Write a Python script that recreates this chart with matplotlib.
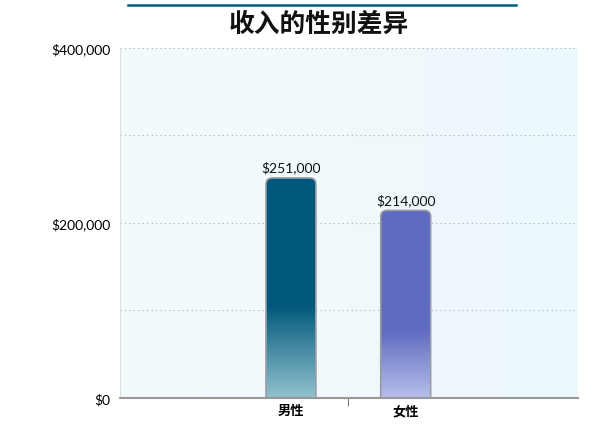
import numpy as np
import matplotlib
matplotlib.use("Agg")
import matplotlib.pyplot as plt
from matplotlib.patches import FancyBboxPatch
from matplotlib.colors import LinearSegmentedColormap, to_rgb
from matplotlib.ticker import FuncFormatter, MultipleLocator, FixedLocator

plt.rcParams['font.family'] = ['Lato', 'Noto Sans CJK SC', 'DejaVu Sans']

# data
categories = ['男性', '女性']
incomes = [251000, 214000]
labels = ['$251,000', '$214,000']
title = '收入的性别差异'

top_colors = ['#01587a', '#5f6bc1']
bottom_colors = ['#92c2cf', '#b6bfea']
fade_start = [0.42, 0.36]   # fraction of bar height where fade begins

fig = plt.figure(figsize=(6, 4.39), dpi=100)
ax = fig.add_axes([0.2, 0.0915, 0.763, 0.798])

x = np.arange(len(categories))
bw = 0.435
bars = ax.bar(x, incomes, width=bw, color='none', edgecolor='none')

ax.set_xlim(-1.49, 2.5)
ax.set_ylim(0, 400000)

# background gradient
bg = np.linspace(0, 1, 256).reshape(1, -1)
bg_cmap = LinearSegmentedColormap.from_list('bg', ['#f3fbfd', '#edf8fc'])
ax.imshow(bg, extent=[-1.49, 2.5, 0, 400000], aspect='auto', cmap=bg_cmap,
          zorder=0)

# gradient bars with rounded tops
for rect, tc, bc, fs, lab in zip(bars, top_colors, bottom_colors, fade_start, labels):
    x0, w, h = rect.get_x(), rect.get_width(), rect.get_height()
    n = 200
    t = np.linspace(0, 1, n)  # 0 bottom, 1 top
    tcol, bcol = np.array(to_rgb(tc)), np.array(to_rgb(bc))
    frac = np.clip(t / fs, 0, 1)
    img = bcol + (tcol - bcol) * frac[:, None]
    img = img[:, None, :]
    im = ax.imshow(img, extent=[x0, x0 + w, 0, h], origin='lower',
                   aspect='auto', zorder=2)
    patch = FancyBboxPatch((x0, -20000), w, h + 20000,
                           boxstyle='round,pad=0,rounding_size=0.055',
                           mutation_aspect=125000,
                           facecolor='none', edgecolor='#9a9ca4', lw=1.2,
                           zorder=3)
    ax.add_patch(patch)
    im.set_clip_path(patch)
    ax.text(x0 + w / 2, h + 5000, lab, ha='center', va='bottom',
            fontsize=10, color='#111111', zorder=4)

ax.set_xticks(x)
ax.set_xticklabels(categories, fontsize=9.5, fontweight='bold',
                   family=['Noto Sans CJK SC', 'DejaVu Sans'])
ax.tick_params(axis='x', which='major', length=0, pad=4)
ax.xaxis.set_minor_locator(FixedLocator([0.5]))
ax.tick_params(axis='x', which='minor', length=6, color='#555555', direction='out')

ax.yaxis.set_major_locator(MultipleLocator(200000))
ax.yaxis.set_minor_locator(MultipleLocator(100000))
ax.yaxis.set_major_formatter(FuncFormatter(lambda v, p: '${:,.0f}'.format(v)))
ax.tick_params(axis='y', which='both', length=0, labelsize=10, pad=7)
ax.grid(axis='y', which='both', linestyle=(0, (1, 3)), color='#aaaaaa', lw=0.8)
ax.set_axisbelow(True)

for s in ['top', 'right']:
    ax.spines[s].set_visible(False)
ax.spines['left'].set_color('#dddddd')
ax.spines['bottom'].set_color('#999999')
ax.spines['bottom'].set_linewidth(1.5)
ax.spines['bottom'].set_zorder(5)

fig.text(0.532, 0.945, title, ha='center', va='center', fontsize=18.5,
         fontweight='bold', color='#111111',
         family=['Noto Sans CJK SC', 'DejaVu Sans'])
fig.add_artist(plt.Line2D([0.213, 0.86], [0.986, 0.986], color='#005a7e', lw=1.8))

fig.savefig('out.png', dpi=100)
